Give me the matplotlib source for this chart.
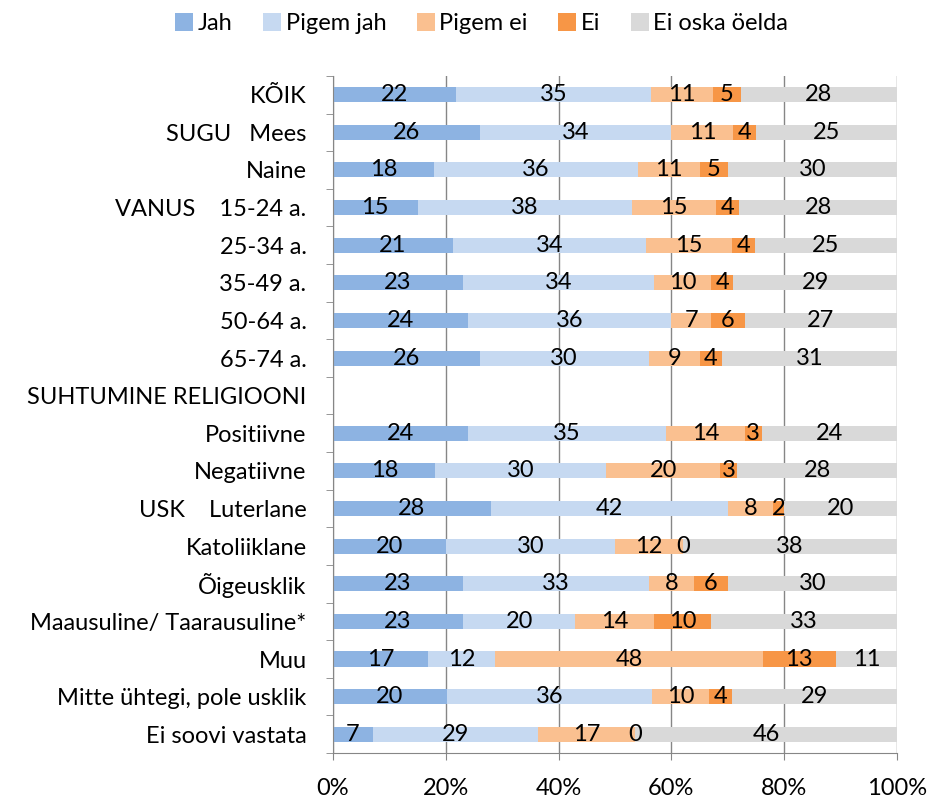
import numpy as np
import matplotlib
matplotlib.use("Agg")
import matplotlib.pyplot as plt
from matplotlib.patches import Patch

plt.rcParams['font.family'] = ['Lato', 'DejaVu Sans']

categories = ["KÕIK", "SUGU   Mees", "Naine", "VANUS    15-24 a.", "25-34 a.", "35-49 a.",
              "50-64 a.", "65-74 a.", "SUHTUMINE RELIGIOONI", "Positiivne", "Negatiivne",
              "USK    Luterlane", "Katoliiklane", "Õigeusklik", "Maausuline/ Taarausuline*",
              "Muu", "Mitte ühtegi, pole usklik", "Ei soovi vastata"]
series = ["Jah", "Pigem jah", "Pigem ei", "Ei", "Ei oska öelda"]
jah       = [22, 26, 18, 15, 21, 23, 24, 26, None, 24, 18, 28, 20, 23, 23, 17, 20, 7]
pigem_jah = [35, 34, 36, 38, 34, 34, 36, 30, None, 35, 30, 42, 30, 33, 20, 12, 36, 29]
pigem_ei  = [11, 11, 11, 15, 15, 10, 7, 9, None, 14, 20, 8, 12, 8, 14, 48, 10, 17]
ei        = [5, 4, 5, 4, 4, 4, 6, 4, None, 3, 3, 2, 0, 6, 10, 13, 4, 0]
ei_oska   = [28, 25, 30, 28, 25, 29, 27, 31, None, 24, 28, 20, 38, 30, 33, 11, 29, 46]
xticklabels = ["0%", "20%", "40%", "60%", "80%", "100%"]

colors = ["#8DB3E2", "#C6D9F1", "#FAC090", "#F79646", "#D9D9D9"]

data = np.array([[np.nan if v is None else v for v in s]
                 for s in [jah, pigem_jah, pigem_ei, ei, ei_oska]], dtype=float)
totals = np.nansum(data, axis=0)
totals[totals == 0] = np.nan
norm = data / totals * 100

FS = 17
fig = plt.figure(figsize=(9.3, 7.99), dpi=100)
ax = fig.add_axes([0.358, 0.0575, 0.6065, 0.8475])
n = len(categories)
y = np.arange(n)
left = np.zeros(n)
for i, (name, col) in enumerate(zip(series, colors)):
    w = np.nan_to_num(norm[i])
    ax.barh(y, w, left=left, height=0.4, color=col, label=name, zorder=3)
    for j in range(n):
        if not np.isnan(data[i, j]):
            ax.text(left[j] + w[j] / 2, y[j], f"{int(data[i, j])}", ha='center', va='center',
                    fontsize=FS, color='black', zorder=4)
    left += w

ax.set_xlim(0, 100)
ax.set_ylim(n - 0.5, -0.5)
ax.set_xticks(np.arange(0, 101, 20))
ax.set_xticklabels(xticklabels, fontsize=FS)
ax.tick_params(axis='x', length=5, color='#868686', pad=13)
ax.set_yticks(y)
ax.set_yticklabels(categories, fontsize=FS)
ax.tick_params(axis='y', which='major', length=0, pad=19)
ax.set_yticks(np.arange(-0.5, n), minor=True)
ax.tick_params(axis='y', which='minor', length=5, color='#868686')
ax.grid(axis='x', color='#868686', linewidth=1, zorder=0)
for s in ['top', 'right']:
    ax.spines[s].set_visible(False)
for s in ['left', 'bottom']:
    ax.spines[s].set_color('#868686')
    ax.spines[s].set_zorder(5)

handles = [Patch(facecolor=c, edgecolor='none', label=s) for c, s in zip(colors, series)]
fig.legend(handles=handles, loc='upper center', bbox_to_anchor=(0.518, 1.01), ncol=5,
           frameon=False, fontsize=FS, handlelength=0.75, handleheight=0.75,
           handletextpad=0.2, columnspacing=1.3)

fig.savefig("out.png", dpi=100)
